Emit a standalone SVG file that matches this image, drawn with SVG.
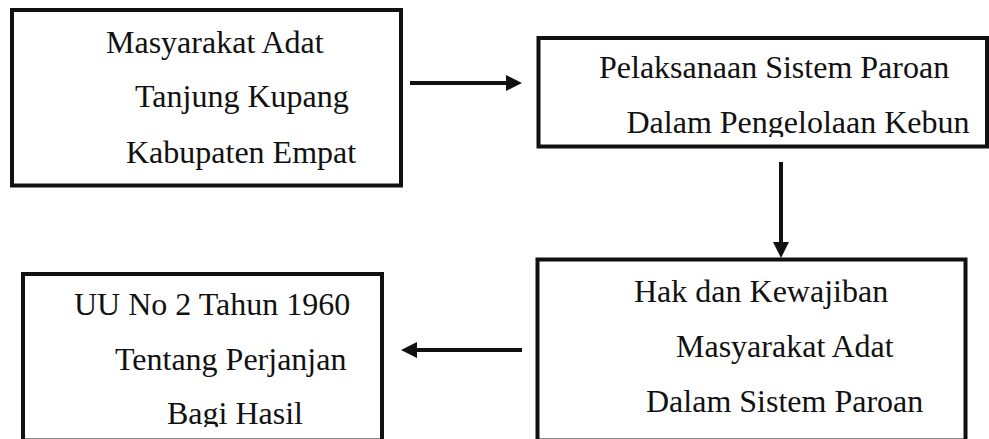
<svg xmlns="http://www.w3.org/2000/svg" width="989" height="439" viewBox="0 0 989 439">
<style>
.box{fill:#fff;stroke:#111;stroke-width:4}
.t{font-family:"Liberation Serif","Times New Roman",serif;font-size:32px;fill:#111}
.c{stroke:#111;stroke-width:4;fill:none}
</style>
<defs>
<marker id="ah" markerUnits="userSpaceOnUse" markerWidth="16" markerHeight="16" refX="2" refY="8" orient="auto">
<path d="M0,0 L16,8 L0,16 z" fill="#111"/>
</marker>
<clipPath id="clip2"><rect x="540" y="40" width="445" height="97"/></clipPath>
<clipPath id="clip4"><rect x="25" y="276" width="355" height="151"/></clipPath>
</defs>
<rect width="989" height="439" fill="#fff"/>
<g id="node1">
<rect class="box" x="12" y="10" width="389" height="175.5"/>
<text class="t" x="106" y="52.5">Masyarakat Adat</text>
<text class="t" x="135" y="107">Tanjung Kupang</text>
<text class="t" x="126" y="162.5">Kabupaten Empat</text>
</g>
<g id="node2">
<rect class="box" x="538.5" y="38" width="448.5" height="108.5"/>
<g clip-path="url(#clip2)">
<text class="t" x="599" y="77.5">Pelaksanaan Sistem Paroan</text>
<text class="t" x="626.5" y="132.7">Dalam Pengelolaan Kebun</text>
</g>
</g>
<g id="node3">
<rect class="box" x="537.5" y="259.5" width="428" height="181"/>
<text class="t" x="634" y="302">Hak dan Kewajiban</text>
<text class="t" x="676" y="357">Masyarakat Adat</text>
<text class="t" x="646" y="411.5">Dalam Sistem Paroan</text>
</g>
<g id="node4">
<rect class="box" x="23" y="274" width="359" height="166.5"/>
<g clip-path="url(#clip4)">
<text class="t" x="74" y="315">UU No 2 Tahun 1960</text>
<text class="t" x="115" y="370">Tentang Perjanjan</text>
<text class="t" x="167" y="424">Bagi Hasil</text>
</g>
</g>
<g id="connectors">
<line class="c" x1="410" y1="83" x2="508" y2="83" marker-end="url(#ah)"/>
<line class="c" x1="781" y1="162" x2="781" y2="244" marker-end="url(#ah)"/>
<line class="c" x1="522" y1="350" x2="415" y2="350" marker-end="url(#ah)"/>
</g>
</svg>
